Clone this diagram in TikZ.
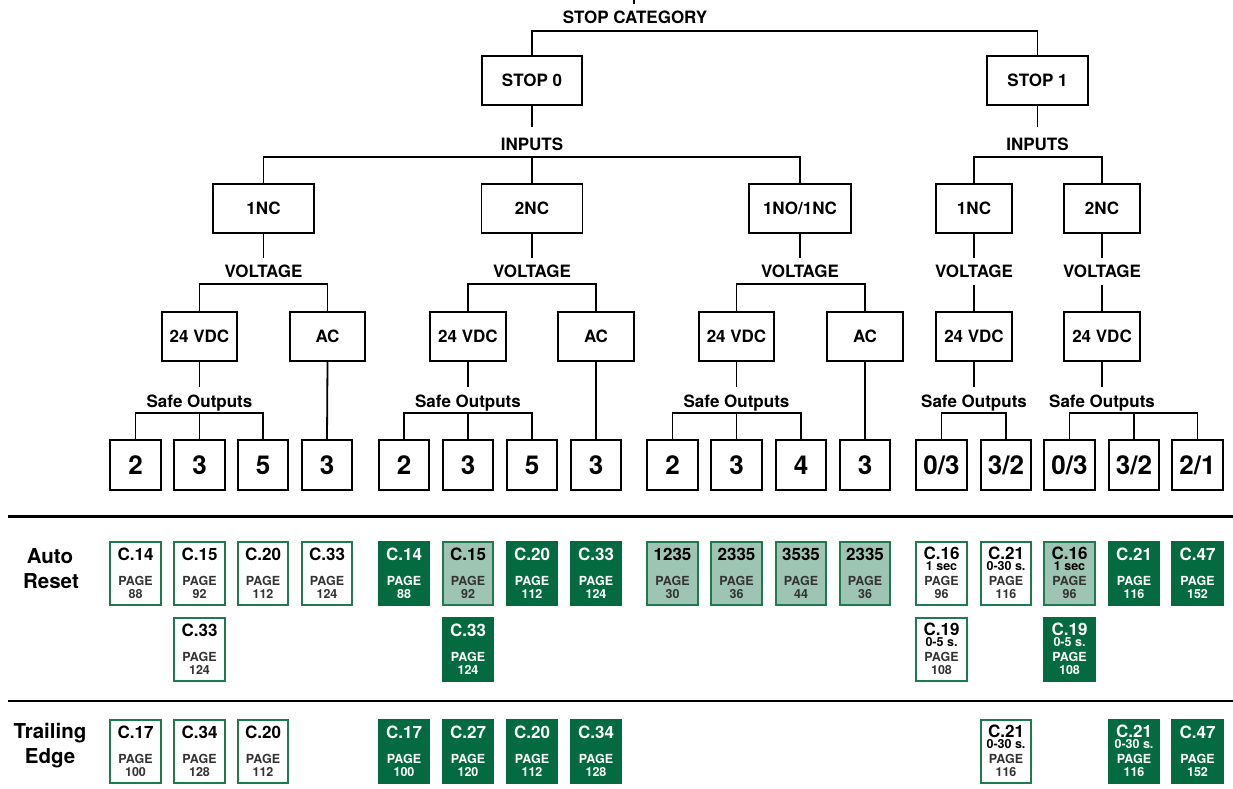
\documentclass[tikz,border=0pt]{standalone}
\usepackage{fontspec}
\setmainfont{TeX Gyre Heros}
\usetikzlibrary{calc}
\definecolor{dg}{HTML}{036B3F}
\definecolor{lg}{HTML}{9EC4B3}
\definecolor{bg}{HTML}{1D7B4F}
\definecolor{tg}{HTML}{333333}
\newcommand\fz[1]{\fontsize{#1}{#1}\selectfont\bfseries}
\tikzset{
 ln/.style={line width=1.8pt},
 sepline/.style={line width=2.4pt},
 tbox/.style={draw, line width=1.8pt, inner sep=0pt, minimum height=49.5pt, text height=12.2pt, text depth=0pt, font=\fz{17}},
 vbox/.style={tbox, minimum width=75.5pt},
 obox/.style={draw, line width=1.8pt, inner sep=0pt, minimum width=50.7pt, minimum height=49.5pt, text height=18.7pt, text depth=0pt, font=\fz{26}},
 lab/.style={anchor=base, inner sep=0pt, font=\fz{17}},
 side/.style={anchor=base, inner sep=0pt, font=\fz{20.5}},
 cbase/.style={line width=1.8pt, minimum width=50.7pt, minimum height=63.2pt, inner sep=0pt},
 cbw/.style={cbase, draw=bg, fill=white},
 cbd/.style={cbase, draw=dg, fill=dg},
 cbl/.style={cbase, draw=bg, fill=lg},
 tbase/.style={anchor=base, inner sep=0pt, text height=12.2pt, text depth=0pt, font=\fz{17}},
 pbase/.style={anchor=base, inner sep=0pt, text height=9pt, text depth=0pt, font=\fz{12.5}},
 ctw/.style={tbase, text=black}, ctd/.style={tbase, text=white}, ctl/.style={tbase, text=black},
 cpw/.style={pbase, text=tg}, cpd/.style={pbase, text=white}, cpl/.style={pbase, text=tg},
 csw/.style={pbase, text=black}, csd/.style={pbase, text=white}, csl/.style={pbase, text=black},
}
% name, kind, x, top, title, page
\newcommand\cb[6]{%
 \node[cb#2] (#1) at (#3,#4+32.5) {};
 \node[ct#2] (#1t) at ($(#1.north)+(0,19.8)$) {#5};
 \node[cp#2] (#1p) at ($(#1.north)+(0,44.8)$) {PAGE};
 \node[cp#2] (#1n) at ($(#1.north)+(0,57.4)$) {#6};}
% name, kind, x, top, title, sub, page
\newcommand\cbs[7]{%
 \node[cb#2] (#1) at (#3,#4+32.5) {};
 \node[ct#2] (#1t) at ($(#1.north)+(0,18.2)$) {#5};
 \node[cs#2] (#1s) at ($(#1.north)+(0,29.4)$) {#6};
 \node[cp#2] (#1p) at ($(#1.north)+(0,44.4)$) {PAGE};
 \node[cp#2] (#1n) at ($(#1.north)+(0,57.2)$) {#7};}
\begin{document}
\begin{tikzpicture}[x=1pt,y=-1pt]
\useasboundingbox (0,0) rectangle (1233,788);
% top
\coordinate (tk) at (634,0);
\draw[ln] (tk) -- ++(0,4);
\node[lab] (stopcat) at (635,23.1) {STOP CATEGORY};
\node[tbox, minimum width=100.5pt] (s0) at (532,80.5) {STOP 0};
\node[tbox, minimum width=101pt] (s1) at (1037.5,80.5) {STOP 1};
\draw[ln] (s0.north) -- ++(0,-24) -| (s1.north);
% inputs
\node[lab] (in0) at (532,150.1) {INPUTS};
\node[lab] (in1) at (1037.5,150.1) {INPUTS};
\node[tbox, minimum width=101pt] (l1a) at (263.5,208.5) {1NC};
\node[tbox, minimum width=101pt] (l1b) at (532,208.5) {2NC};
\node[tbox, minimum width=102pt] (l1c) at (800,208.5) {1NO/1NC};
\node[tbox, minimum width=76pt] (l1d) at (974,208.5) {1NC};
\node[tbox, minimum width=76pt] (l1e) at (1102,208.5) {2NC};
\draw[ln] (s0.south) -- ++(0,21);
\draw[ln] (s1.south) -- ++(0,21);
\draw[ln] (l1a.north) -- ++(0,-26) -| (l1c.north);
\draw[ln] (l1b.north) -- ++(0,-26);
\draw[ln] (l1d.north) -- ++(0,-26) -| (l1e.north);
% voltage
\foreach \n/\x in {a/263.5,b/532,c/800,d/974,e/1102}{
 \node[lab] (vl\n) at (\x,277.6) {VOLTAGE};
 \draw[ln] (l1\n.south) -- ++(0,24);
}
\node[vbox] (va1) at (199.5,336.5) {24 VDC};
\node[vbox] (va2) at (327.5,336.5) {AC};
\node[vbox] (vb1) at (468,336.5) {24 VDC};
\node[vbox] (vb2) at (596,336.5) {AC};
\node[vbox] (vc1) at (736.5,336.5) {24 VDC};
\node[vbox] (vc2) at (865,336.5) {AC};
\node[vbox] (vd1) at (974,336.5) {24 VDC};
\node[vbox] (ve1) at (1102,336.5) {24 VDC};
\draw[ln] (va1.north) -- ++(0,-27) -| (va2.north);
\draw[ln] (vb1.north) -- ++(0,-27) -| (vb2.north);
\draw[ln] (vc1.north) -- ++(0,-27) -| (vc2.north);
\draw[ln] (vd1.north) -- ++(0,-26);
\draw[ln] (ve1.north) -- ++(0,-26);
% safe outputs
\foreach \n/\x in {a/199.5,b/468,c/736.5,d/974,e/1102}{
 \node[lab] (so\n) at (\x,407.2) {Safe Outputs};
 \draw[ln] (v\n1.south) -- ++(0,25);
}
\node[obox] (oa1) at (135.5,465) {2};
\node[obox] (oa2) at (199.5,465) {3};
\node[obox] (oa3) at (263,465) {5};
\node[obox] (oa4) at (327,465) {3};
\node[obox] (ob1) at (404,465) {2};
\node[obox] (ob2) at (468,465) {3};
\node[obox] (ob3) at (532,465) {5};
\node[obox] (ob4) at (596,465) {3};
\node[obox] (oc1) at (672.5,465) {2};
\node[obox] (oc2) at (736.5,465) {3};
\node[obox] (oc3) at (801,465) {4};
\node[obox] (oc4) at (865,465) {3};
\node[obox] (od1) at (941.5,465) {0/3};
\node[obox] (od2) at (1006,465) {3/2};
\node[obox] (oe1) at (1069.5,465) {0/3};
\node[obox] (oe2) at (1134,465) {3/2};
\node[obox] (oe3) at (1197.5,465) {2/1};
\draw[ln] (oa1.north) -- ++(0,-26) -| (oa3.north);
\draw[ln] (oa2.north) -- ++(0,-26);
\draw[ln] (va2.south) -- (oa4.north);
\draw[ln] (ob1.north) -- ++(0,-26) -| (ob3.north);
\draw[ln] (ob2.north) -- ++(0,-26);
\draw[ln] (vb2.south) -- (ob4.north);
\draw[ln] (oc1.north) -- ++(0,-26) -| (oc3.north);
\draw[ln] (oc2.north) -- ++(0,-26);
\draw[ln] (vc2.south) -- (oc4.north);
\draw[ln] (od1.north) -- ++(0,-26) -| (od2.north);
\draw[ln] (oe1.north) -- ++(0,-26) -| (oe3.north);
\draw[ln] (oe2.north) -- ++(0,-26);
% separators
\coordinate (sa1) at (8,516.5);
\coordinate (sa2) at (1233,516.5);
\coordinate (sb1) at (8,701);
\coordinate (sb2) at (1233,701);
\draw[sepline] (sa1) -- (sa2);
\draw[sepline] (sb1) -- (sb2);
% side labels
\node[side] (auto) at (50,563.4) {Auto};
\node[side] (reset) at (51,588.5) {Reset};
\node[side] (trail) at (50,738.4) {Trailing};
\node[side] (edge) at (50,763.4) {Edge};
% auto reset row 1
\cb{a1}{w}{135.5}{541}{C.14}{88}
\cb{a2}{w}{199.5}{541}{C.15}{92}
\cb{a3}{w}{263}{541}{C.20}{112}
\cb{a4}{w}{327}{541}{C.33}{124}
\cb{a5}{d}{404}{541}{C.14}{88}
\cb{a6}{l}{468}{541}{C.15}{92}
\cb{a7}{d}{532}{541}{C.20}{112}
\cb{a8}{d}{596}{541}{C.33}{124}
\cb{a9}{l}{672.5}{541}{1235}{30}
\cb{a10}{l}{736.5}{541}{2335}{36}
\cb{a11}{l}{801}{541}{3535}{44}
\cb{a12}{l}{865}{541}{2335}{36}
\cbs{a13}{w}{941.5}{541}{C.16}{1 sec}{96}
\cbs{a14}{w}{1006}{541}{C.21}{0-30 s.}{116}
\cbs{a15}{l}{1069.5}{541}{C.16}{1 sec}{96}
\cb{a16}{d}{1134}{541}{C.21}{116}
\cb{a17}{d}{1197.5}{541}{C.47}{152}
% auto reset row 2
\cb{b1}{w}{199.5}{617}{C.33}{124}
\cb{b2}{d}{468}{617}{C.33}{124}
\cbs{b3}{w}{941.5}{617}{C.19}{0-5 s.}{108}
\cbs{b4}{d}{1069.5}{617}{C.19}{0-5 s.}{108}
% trailing edge
\cb{c1}{w}{135.5}{719}{C.17}{100}
\cb{c2}{w}{199.5}{719}{C.34}{128}
\cb{c3}{w}{263}{719}{C.20}{112}
\cb{c4}{d}{404}{719}{C.17}{100}
\cb{c5}{d}{468}{719}{C.27}{120}
\cb{c6}{d}{532}{719}{C.20}{112}
\cb{c7}{d}{596}{719}{C.34}{128}
\cbs{c8}{w}{1006}{719}{C.21}{0-30 s.}{116}
\cbs{c9}{d}{1134}{719}{C.21}{0-30 s.}{116}
\cb{c10}{d}{1197.5}{719}{C.47}{152}
\end{tikzpicture}
\end{document}
